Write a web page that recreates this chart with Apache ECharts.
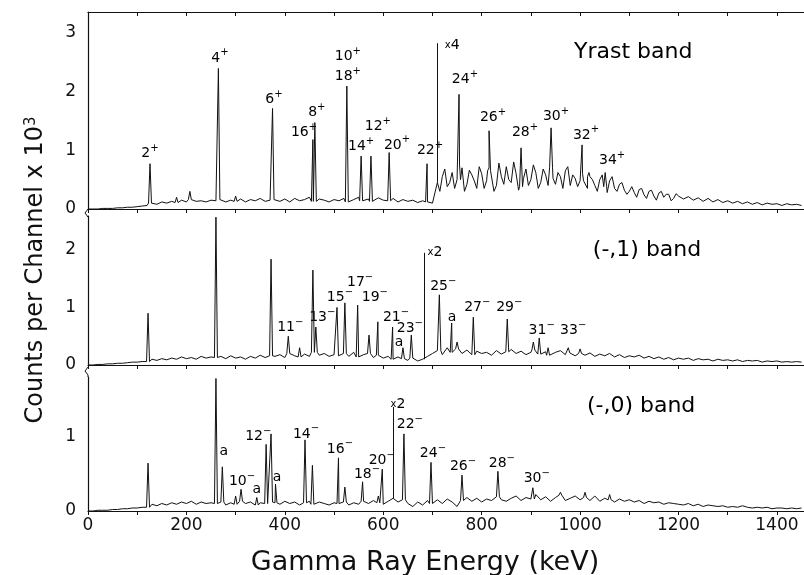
<!DOCTYPE html>
<html>
<head>
<meta charset="utf-8">
<script src="https://cdn.jsdelivr.net/npm/echarts@6/dist/echarts.min.js"></script>
<style>
  html, body { margin: 0; padding: 0; background: #fff; }
  #main { width: 804px; height: 575px; }
</style>
</head>
<body>
<div id="main"></div>
<script>
    // spectra, one value every 10 keV (0 .. 1450)
    var STEP = 10;
    var yrastBase = [
        0,0,0,0.01,0.01,0.01,0.02,0.02,0.03,0.03,
        0.04,0.05,0.06,0.1,0.08,0.12,0.1,0.13,0.11,0.15,
        0.12,0.16,0.13,0.14,0.12,0.15,0.14,0.16,0.12,0.15,
        0.13,0.17,0.12,0.16,0.14,0.18,0.13,0.15,0.16,0.13,
        0.17,0.12,0.18,0.14,0.16,0.2,0.13,0.17,0.15,0.12,
        0.16,0.14,0.18,0.12,0.16,0.2,0.14,0.17,0.13,0.19,
        0.15,0.14,0.18,0.12,0.16,0.13,0.15,0.11,0.14,0.12,
        0.1,0.45,0.55,0.38,0.62,0.5,0.7,0.42,0.58,0.35,
        0.6,0.48,0.65,0.4,0.55,0.72,0.45,0.6,0.38,0.68,
        0.5,0.62,0.45,0.58,0.7,0.42,0.55,0.65,0.4,0.52,
        0.48,0.45,0.55,0.4,0.5,0.38,0.48,0.35,0.42,0.32,
        0.3,0.28,0.33,0.24,0.3,0.22,0.27,0.2,0.25,0.18,
        0.22,0.17,0.21,0.15,0.19,0.13,0.18,0.12,0.16,0.11,
        0.14,0.1,0.13,0.09,0.12,0.08,0.11,0.07,0.1,0.08,
        0.09,0.06,0.09,0.07,0.08,0.06
    ];
    // extra in-between readings of the noisy x4 part (715, 725, ... 1195 keV)
    var yrastFineStart = 715;
    var yrastFine = [
        0.3,0.68,0.45,0.35,0.75,0.3,0.66,0.48,0.72,
        0.35,0.7,0.3,0.78,0.42,0.5,0.8,0.32,0.52,0.4,
        0.75,0.35,0.68,0.4,0.52,0.62,0.35,0.72,0.58,0.38,
        0.6,0.35,0.5,0.3,0.58,0.28,0.55,0.3,0.45,0.25,
        0.38,0.2,0.35,0.18,0.32,0.15,0.3,0.25,0.14,0.26
    ];
    var minus1Base = [
        0,0,0.01,0.01,0.02,0.02,0.03,0.03,0.04,0.05,
        0.05,0.06,0.06,0.1,0.08,0.11,0.09,0.12,0.1,0.14,
        0.11,0.13,0.1,0.15,0.12,0.14,0.13,0.15,0.11,0.16,
        0.12,0.14,0.1,0.15,0.12,0.17,0.13,0.16,0.15,0.18,
        0.13,0.2,0.16,0.14,0.19,0.15,0.22,0.17,0.2,0.15,
        0.18,0.16,0.2,0.15,0.22,0.14,0.18,0.2,0.13,0.17,
        0.12,0.15,0.1,0.14,0.11,0.08,0.12,0.07,0.1,0.15,
        0.2,0.25,0.18,0.3,0.22,0.28,0.2,0.26,0.18,0.24,
        0.2,0.22,0.17,0.25,0.19,0.23,0.27,0.2,0.24,0.18,
        0.22,0.26,0.19,0.23,0.17,0.22,0.25,0.18,0.21,0.16,
        0.2,0.17,0.21,0.15,0.19,0.16,0.2,0.14,0.18,0.13,
        0.16,0.14,0.17,0.12,0.15,0.11,0.14,0.1,0.13,0.09,
        0.12,0.1,0.12,0.08,0.11,0.09,0.1,0.07,0.1,0.08,
        0.09,0.07,0.09,0.06,0.08,0.07,0.08,0.05,0.07,0.06,
        0.07,0.05,0.06,0.05,0.06,0.05
    ];
    var minus0Base = [
        0,0,0.01,0.01,0.01,0.02,0.02,0.03,0.03,0.04,
        0.04,0.05,0.05,0.09,0.07,0.1,0.08,0.11,0.09,0.12,
        0.1,0.13,0.09,0.12,0.1,0.11,0.1,0.12,0.08,0.11,
        0.09,0.13,0.1,0.12,0.08,0.11,0.1,0.12,0.11,0.09,
        0.13,0.1,0.12,0.08,0.11,0.13,0.09,0.12,0.1,0.08,
        0.11,0.1,0.12,0.08,0.11,0.09,0.13,0.1,0.14,0.11,
        0.09,0.13,0.17,0.12,0.15,0.1,0.06,0.12,0.08,0.14,
        0.1,0.15,0.1,0.16,0.12,0.06,0.14,0.18,0.13,0.17,
        0.12,0.16,0.14,0.19,0.15,0.13,0.17,0.2,0.14,0.18,
        0.16,0.22,0.15,0.19,0.13,0.18,0.21,0.14,0.17,0.2,
        0.15,0.18,0.14,0.2,0.13,0.17,0.15,0.12,0.16,0.13,
        0.15,0.12,0.14,0.1,0.13,0.11,0.12,0.09,0.11,0.1,
        0.09,0.08,0.1,0.07,0.09,0.06,0.08,0.07,0.06,0.07,
        0.05,0.06,0.05,0.07,0.05,0.04,0.05,0.04,0.05,0.03,
        0.04,0.04,0.03,0.04,0.03,0.04
    ];

    // peaks: [energy keV, top]
    var yrastPeaks = [[126,0.77],[180,0.2],[207,0.3],[265,2.39],[300,0.22],[375,1.71],[457,1.18],[461,1.47],
        [526,2.09],[555,0.9],[575,0.9],[612,0.96],[689,0.77],[754,1.95],[815,1.33],[880,1.04],
        [941,1.38],[1004,1.09],[1018,0.62],[1051,0.62]];
    var minus1Peaks = [[122,0.9],[260,2.57],[372,1.84],[407,0.5],[430,0.3],[457,1.65],[463,0.66],[506,1.0],
        [522,1.08],[548,1.04],[571,0.52],[589,0.75],[619,0.66],[640,0.3],[657,0.52],[714,1.22],
        [739,0.73],[750,0.4],[783,0.83],[852,0.8],[905,0.4],[917,0.47],[935,0.3],[976,0.3],[1000,0.28]];
    var minus0Peaks = [[122,0.64],[260,1.77],[273,0.59],[300,0.2],[311,0.29],[343,0.18],[362,0.89],[372,1.03],
        [381,0.36],[441,0.95],[456,0.61],[509,0.71],[522,0.32],[558,0.39],[590,0.2],[598,0.56],
        [642,1.03],[697,0.65],[760,0.48],[833,0.53],[904,0.31],[960,0.25],[1010,0.25],[1060,0.22]];

    // gain change markers: [energy, top]
    var yrastScale = [709, 2.82];
    var minus1Scale = [683, 1.95];
    var minus0Scale = [620, 1.39];

    // labels: [text, superscript, energy, y]
    var yrastLabels = [['2','+',126,0.95],['4','+',268,2.57],['6','+',378,1.86],['16','+',439,1.31],
        ['8','+',465,1.65],['10','+',528,2.59],['18','+',528,2.25],['14','+',555,1.06],['12','+',589,1.41],
        ['20','+',628,1.09],['22','+',695,1.0],['24','+',766,2.2],['26','+',823,1.55],['28','+',888,1.31],
        ['30','+',951,1.57],['32','+',1012,1.26],['34','+',1065,0.83]];
    var minus1Labels = [['11','−',411,0.66],['13','−',476,0.82],['15','−',512,1.18],['17','−',553,1.44],
        ['19','−',583,1.18],['21','−',626,0.82],['a','',632,0.4],['23','−',654,0.64],['25','−',722,1.37],
        ['a','',740,0.83],['27','−',791,1.0],['29','−',856,1.0],['31','−',922,0.61],['33','−',986,0.61]];
    var minus0Labels = [['a','',276,0.8],['10','−',313,0.4],['a','',343,0.29],['12','−',346,1.0],
        ['a','',384,0.45],['14','−',443,1.03],['16','−',512,0.83],['18','−',567,0.49],['20','−',597,0.68],
        ['22','−',654,1.16],['24','−',701,0.77],['26','−',762,0.6],['28','−',841,0.64],['30','−',912,0.43]];

    var bandNames = ['Yrast band', '(-,1) band', '(-,0) band'];
    var bandPos = [[1108,2.66],[1136,2.0],[1124,1.4]];
    var scaleText = ['4', '2', '2'];
    var scaleTextPos = [[740,2.79],[705,1.95],[630,1.43]];

    var FONT = 'DejaVu Sans';
    var XMAX = 1455;

    function buildSpectrum(base, peaks, fine, fineStart) {
        var pts = base.map(function (v, i) { return [i * STEP, v]; });
        (fine || []).forEach(function (v, i) { pts.push([fineStart + i * STEP, v]); });
        peaks.forEach(function (p) {
            var b = base[Math.round(p[0] / STEP)];
            pts.push([p[0] - 3, b], [p[0], p[1]], [p[0] + 3, b]);
        });
        pts.sort(function (a, b) { return a[0] - b[0]; });
        return pts;
    }

    var rich = {
        n: { fontSize: 14, lineHeight: 20, color: '#000', fontFamily: FONT },
        s: { fontSize: 10, lineHeight: 10, verticalAlign: 'top', color: '#000', fontFamily: FONT },
        x: { fontSize: 10, color: '#000', fontFamily: FONT },
        b: { fontSize: 22, color: '#000', fontFamily: FONT }
    };

    function labelData(list, k) {
        var out = list.map(function (l) {
            var txt = '{n|' + l[0] + '}' + (l[1] ? '{s|' + l[1] + '}' : '');
            return { value: [l[2], l[3]], label: { formatter: txt } };
        });
        out.push({ value: bandPos[k], label: { formatter: '{b|' + bandNames[k] + '}' } });
        out.push({ value: scaleTextPos[k], label: { formatter: '{x|x}{n|' + scaleText[k] + '}' } });
        return out;
    }

    var bases = [yrastBase, minus1Base, minus0Base];
    var peaks = [yrastPeaks, minus1Peaks, minus0Peaks];
    var scales = [yrastScale, minus1Scale, minus0Scale];
    var labels = [yrastLabels, minus1Labels, minus0Labels];

    var grids = [
        { left: 88, right: 0, top: 12, height: 197 },
        { left: 88, right: 0, top: 216, height: 149 },
        { left: 88, right: 0, top: 377, height: 134 }
    ];
    var yMax = [3.35, 2.59, 1.79];

    function xAx(g, pos, showLabel, inside) {
        return {
            type: 'value', gridIndex: g, position: pos, min: 0, max: XMAX, interval: 100,
            axisLine: { show: true, lineStyle: { color: '#111', width: 1.2 } },
            axisTick: { show: true, inside: inside, length: 4, lineStyle: { color: '#111' } },
            axisLabel: {
                show: showLabel, showMaxLabel: false, color: '#111', fontSize: 17, fontFamily: FONT, margin: 6,
                formatter: function (v) { return v % 200 === 0 ? v : ''; }
            },
            splitLine: { show: false }
        };
    }

    var xAxes = [xAx(0, 'bottom', false, false), xAx(0, 'top', false, true),
                 xAx(1, 'bottom', false, false), xAx(2, 'bottom', true, false)];
    var yAxes = [0, 1, 2].map(function (g) {
        return {
            type: 'value', gridIndex: g, min: 0, max: yMax[g], interval: 1,
            axisLine: { show: true, lineStyle: { color: '#111', width: 1.2 } },
            axisTick: { show: false },
            axisLabel: { showMaxLabel: false, color: '#111', fontSize: 17, fontFamily: FONT, margin: 12 },
            splitLine: { show: false }
        };
    });
    var xIdx = [0, 2, 3];

    var series = [];
    [0, 1, 2].forEach(function (k) {
        series.push({
            type: 'line', xAxisIndex: xIdx[k], yAxisIndex: k,
            data: k === 0 ? buildSpectrum(bases[k], peaks[k], yrastFine, yrastFineStart)
                          : buildSpectrum(bases[k], peaks[k]),
            showSymbol: false, animation: false, silent: true,
            lineStyle: { color: '#111', width: 1 },
            markLine: {
                symbol: 'none', silent: true, animation: false, label: { show: false },
                lineStyle: { color: '#111', width: 1, type: 'solid' },
                data: [[{ coord: [scales[k][0], bases[k][Math.round(scales[k][0] / STEP)]] },
                        { coord: [scales[k][0], scales[k][1]] }]]
            }
        });
        series.push({
            type: 'scatter', xAxisIndex: xIdx[k], yAxisIndex: k,
            symbolSize: 1, itemStyle: { color: 'rgba(0,0,0,0)', opacity: 1 },
            animation: false, silent: true,
            label: { show: true, position: 'inside', rich: rich },
            data: labelData(labels[k], k)
        });
    });

    var myChart = echarts.init(document.getElementById('main'));
    var option = {
        backgroundColor: '#fff',
        animation: false,
        grid: grids,
        xAxis: xAxes,
        yAxis: yAxes,
        series: series,
        graphic: [
            {
                type: 'text', x: 36, y: 270, rotation: Math.PI / 2, origin: [0, 0],
                style: {
                    text: '{t|Counts per Channel x 10}{u|3}', align: 'center', verticalAlign: 'middle',
                    rich: {
                        t: { fontSize: 24, fontFamily: FONT, fill: '#111' },
                        u: { fontSize: 15, fontFamily: FONT, verticalAlign: 'top', lineHeight: 12, fill: '#111' }
                    }
                }
            },
            {
                type: 'text', x: 425, y: 563,
                style: { text: 'Gamma Ray Energy (keV)', fontSize: 27, fontFamily: FONT, fill: '#111',
                         align: 'center', verticalAlign: 'middle' }
            },
            { type: 'polyline', shape: { points: [[88, 209], [85, 213], [88, 217], [88, 216]] },
              style: { stroke: '#111', lineWidth: 1, fill: null } },
            { type: 'polyline', shape: { points: [[88, 367], [85, 371], [88, 375], [88, 377]] },
              style: { stroke: '#111', lineWidth: 1, fill: null } }
        ]
    };
    myChart.setOption(option);
</script>
</body>
</html>
